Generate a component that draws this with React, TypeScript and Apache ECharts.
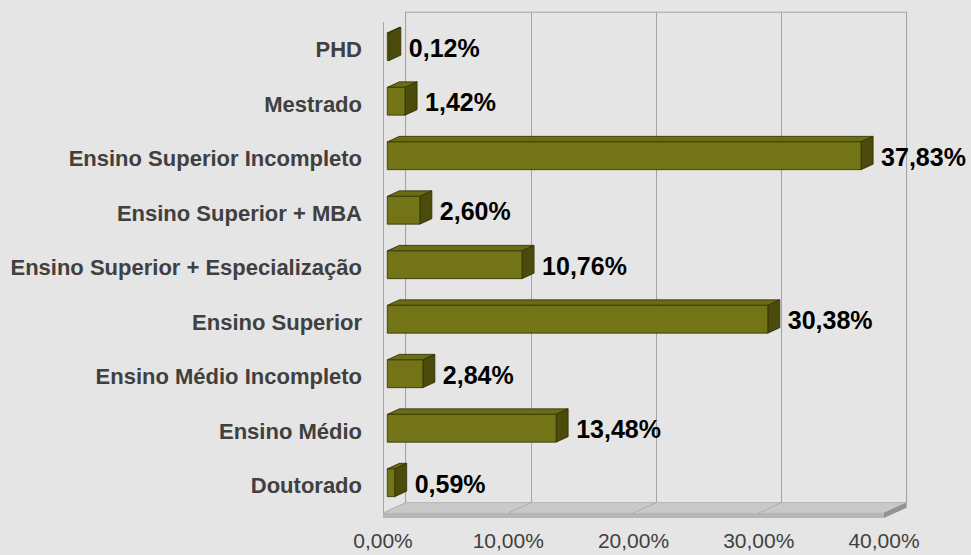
import React, { useEffect, useRef } from "react";
import * as echarts from "echarts";

const categories: string[] = [
  "PHD",
  "Mestrado",
  "Ensino Superior Incompleto",
  "Ensino Superior + MBA",
  "Ensino Superior + Especialização",
  "Ensino Superior",
  "Ensino Médio Incompleto",
  "Ensino Médio",
  "Doutorado",
];
const values: number[] = [0.12, 1.42, 37.83, 2.6, 10.76, 30.38, 2.84, 13.48, 0.59];
const axisMin = 0;
const axisMax = 40;
const axisInterval = 10;

const FONT = "'Liberation Sans', Arial, Helvetica, sans-serif";
const DEPTH_X = 22.6;
const DEPTH_Y = 10.3;
const BAR_DX = 12;
const BAR_DY = 5.5;

const fmt = (v: number) => v.toFixed(2).replace(".", ",") + "%";

export default function App() {
  const ref = useRef<HTMLDivElement>(null);
  useEffect(() => {
    if (!ref.current) return;
    const chart = echarts.init(ref.current, undefined, { renderer: "svg" });
    const option: any = {
      animation: false,
      backgroundColor: "#e5e5e5",
      grid: [
        {
          left: 383,
          top: 22.5,
          width: 501,
          height: 490.5,
          containLabel: false,
          outerBoundsMode: "none",
          show: false,
        },
        {
          left: 383 + DEPTH_X,
          top: 22.5 - DEPTH_Y,
          width: 501,
          height: 490.5,
          containLabel: false,
          outerBoundsMode: "none",
          show: true,
          borderColor: "#a4a4a4",
          borderWidth: 1,
          backgroundColor: "transparent",
        },
      ],
      xAxis: [
        {
          type: "value",
          gridIndex: 0,
          min: axisMin,
          max: axisMax,
          interval: axisInterval,
          axisLine: { show: false },
          axisTick: { show: false },
          splitLine: { show: false },
          axisLabel: {
            show: true,
            margin: 17,
            color: "#404040",
            fontFamily: FONT,
            fontSize: 21,
            formatter: (v: number) => fmt(v),
          },
        },
        {
          type: "value",
          gridIndex: 1,
          min: axisMin,
          max: axisMax,
          interval: axisInterval,
          axisLine: { show: false },
          axisTick: { show: false },
          axisLabel: { show: false },
          splitLine: { show: true, lineStyle: { color: "#a4a4a4", width: 1 } },
        },
      ],
      yAxis: [
        {
          type: "category",
          gridIndex: 0,
          data: categories,
          inverse: true,
          axisLine: { show: true, lineStyle: { color: "#a4a4a4", width: 1 } },
          axisTick: { show: false },
          splitLine: { show: false },
          axisLabel: {
            margin: 21,
            color: "#404040",
            fontFamily: FONT,
            fontSize: 22,
            fontWeight: "bold",
          },
        },
        {
          type: "value",
          gridIndex: 1,
          show: false,
          splitLine: { show: false },
        },
      ],
      series: [
        {
          type: "custom",
          xAxisIndex: 0,
          yAxisIndex: 0,
          z: 1,
          silent: true,
          data: [[axisMin, 0]],
          renderItem: (params: any) => {
            const cs = params.coordSys;
            const by = cs.y + cs.height;
            const lx = cs.x;
            const rx = cs.x + cs.width;
            const th = 5;
            const children: any[] = [
              {
                type: "polygon",
                shape: {
                  points: [
                    [lx, by],
                    [rx, by],
                    [rx + DEPTH_X, by - DEPTH_Y],
                    [lx + DEPTH_X, by - DEPTH_Y],
                  ],
                },
                style: { fill: "#c9c9c9", stroke: "#bdbdbd", lineWidth: 0.5 },
              },
              {
                type: "rect",
                shape: { x: lx, y: by, width: cs.width, height: th },
                style: { fill: "#b6b6b6" },
              },
              {
                type: "polygon",
                shape: {
                  points: [
                    [rx, by],
                    [rx + DEPTH_X, by - DEPTH_Y],
                    [rx + DEPTH_X, by - DEPTH_Y + th],
                    [rx, by + th],
                  ],
                },
                style: { fill: "#939393" },
              },
            ];
            const steps = (axisMax - axisMin) / axisInterval;
            for (let k = 0; k <= steps; k++) {
              const x = lx + (cs.width * k) / steps;
              children.push({
                type: "line",
                shape: { x1: x, y1: by, x2: x + DEPTH_X, y2: by - DEPTH_Y },
                style: { stroke: "rgba(120,120,120,0.35)", lineWidth: 1 },
              });
            }
            return { type: "group", children };
          },
        },
        {
          type: "custom",
          xAxisIndex: 0,
          yAxisIndex: 0,
          z: 3,
          silent: true,
          encode: { x: 0, y: 1 },
          data: values.map((v, i) => [v, i]),
          renderItem: (params: any, api: any) => {
            const v = api.value(0);
            const idx = api.value(1);
            const p0 = api.coord([0, idx]);
            const p1 = api.coord([v, idx]);
            const band = api.size([0, 1])[1];
            const h = band * 0.51;
            const fx0 = p0[0] + 4.3;
            const fx1 = p1[0] + 4.3;
            const cy = p0[1] - 3;
            const top = cy - h / 2;
            const bot = cy + h / 2;
            const edge = "#2e2e00";
            return {
              type: "group",
              children: [
                {
                  type: "polygon",
                  shape: {
                    points: [
                      [fx0, top],
                      [fx1, top],
                      [fx1 + BAR_DX, top - BAR_DY],
                      [fx0 + BAR_DX, top - BAR_DY],
                    ],
                  },
                  style: { fill: "#6c6c14", stroke: edge, lineWidth: 0.8 },
                },
                {
                  type: "polygon",
                  shape: {
                    points: [
                      [fx1, top],
                      [fx1 + BAR_DX, top - BAR_DY],
                      [fx1 + BAR_DX, bot - BAR_DY],
                      [fx1, bot],
                    ],
                  },
                  style: { fill: "#4b4b0b", stroke: edge, lineWidth: 0.8 },
                },
                {
                  type: "rect",
                  shape: { x: fx0, y: top, width: fx1 - fx0, height: h },
                  style: { fill: "#737318", stroke: edge, lineWidth: 0.8 },
                },
                {
                  type: "text",
                  x: fx1 + BAR_DX + 8,
                  y: cy + 1,
                  style: {
                    text: fmt(v),
                    fill: "#000000",
                    fontFamily: FONT,
                    fontSize: 25,
                    fontWeight: "bold",
                    align: "left",
                    verticalAlign: "middle",
                  },
                },
              ],
            };
          },
        },
      ],
    };
    chart.setOption(option);
    return () => chart.dispose();
  }, []);
  return (
    <div
      ref={ref}
      style={{ position: "fixed", left: 0, top: 0, width: 971, height: 555 }}
    />
  );
}
